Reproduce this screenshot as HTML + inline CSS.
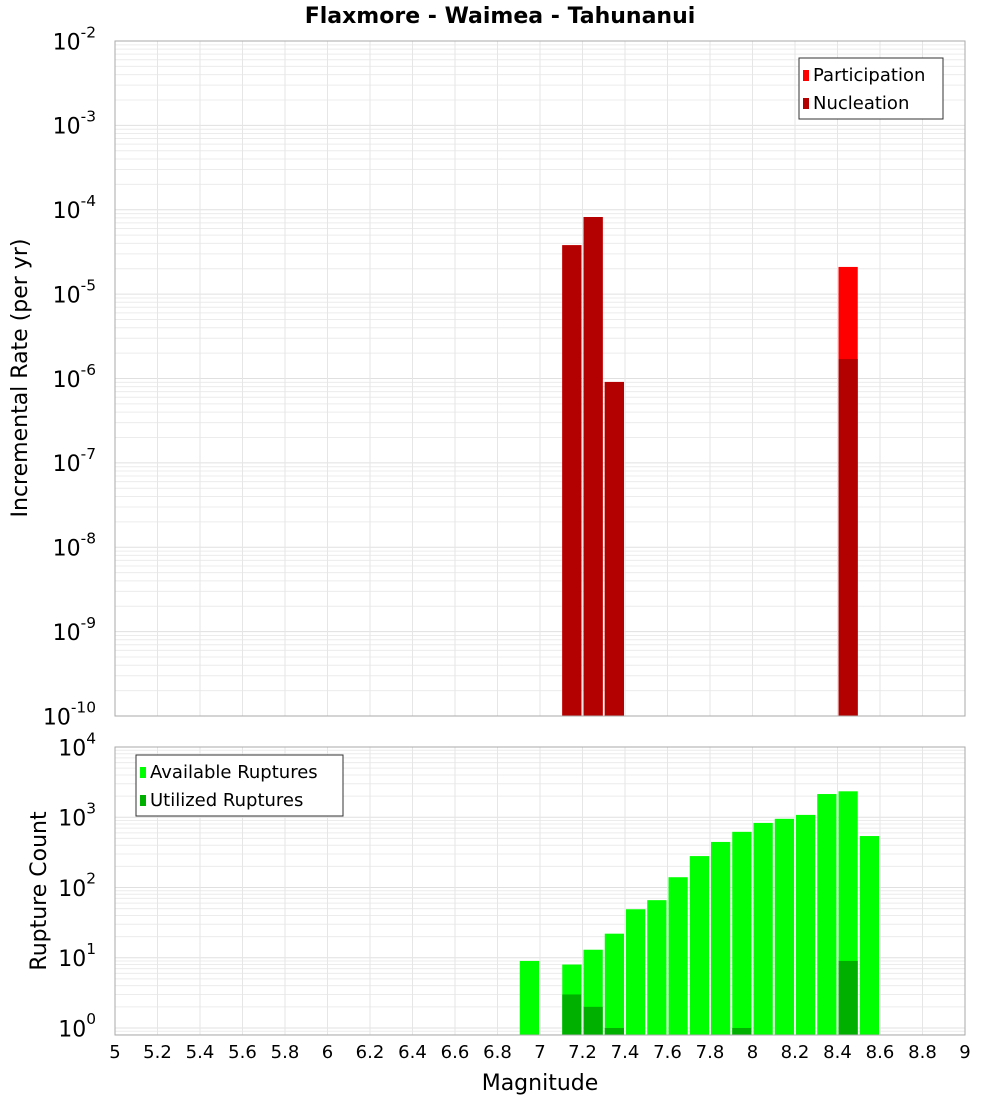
<!DOCTYPE html>
<html><head><meta charset="utf-8"><style>
body{margin:0;background:#fff;font-family:"DejaVu Sans","Liberation Sans",sans-serif}
svg text{font-family:"DejaVu Sans","Liberation Sans",sans-serif}
</style></head><body>
<svg id="c" width="1000" height="1100" xmlns="http://www.w3.org/2000/svg">
<text x="500" y="23" text-anchor="middle" font-size="22" font-weight="bold">Flaxmore - Waimea - Tahunanui</text>
<text transform="translate(27,378) rotate(-90)" text-anchor="middle" font-size="22">Incremental Rate (per yr)</text>
<text transform="translate(46,891) rotate(-90)" text-anchor="middle" font-size="22">Rupture Count</text>
<text x="540" y="1090" text-anchor="middle" font-size="22">Magnitude</text>
<g id="g"></g>
</svg>
<script>
const rateMags=[7.15,7.25,7.35,8.45];
const participation=[3.8e-5,8.2e-5,9.1e-7,2.1e-5];
const nucleation=[3.8e-5,8.2e-5,9.1e-7,1.7e-6];
const countMags=[6.95,7.15,7.25,7.35,7.45,7.55,7.65,7.75,7.85,7.95,8.05,8.15,8.25,8.35,8.45,8.55];
const available=[9,8,13,22,49,66,140,280,445,620,830,950,1080,2140,2340,540];
const utilized=[0,3,2,1,0,0,0,0,0,1,0,0,0,0,9,0];
const xTicks=[5,5.2,5.4,5.6,5.8,6,6.2,6.4,6.6,6.8,7,7.2,7.4,7.6,7.8,8,8.2,8.4,8.6,8.8,9];
const topExps=[-10,-9,-8,-7,-6,-5,-4,-3,-2];
const botExps=[0,1,2,3,4];

const NS="http://www.w3.org/2000/svg";
const g=document.getElementById('g');
function mk(t,a,p){const e=document.createElementNS(NS,t);for(const k in a)e.setAttribute(k,a[k]);(p||g).appendChild(e);return e;}
const X0=115,X1=965;
const xs=m=>X0+(m-5)/4*(X1-X0);
const T0=41,T1=716,B0=747,B1=1035;
const yTop=v=>T0+(-2-Math.log10(v))/8*(T1-T0);
const BMIN=-0.1,BMAX=4;
const yBot=v=>B0+(BMAX-Math.log10(v))/(BMAX-BMIN)*(B1-B0);

function grid(y0,y1,lo,hi,yf){
  for(let e=Math.floor(lo);e<hi;e++)for(let k=1;k<10;k++){const v=k*Math.pow(10,e);const lv=Math.log10(v);if(lv<lo||lv>hi)continue;const y=yf(v);
    const l=mk('line',{x1:X0,x2:X1,y1:y,y2:y,stroke:k==1?'#e0e0e0':'#ececec','stroke-width':1});
    
    }
  xTicks.forEach(m=>{const l=mk('line',{x1:xs(m),x2:xs(m),y1:y0,y2:y1,stroke:'#e6e6e6'});
    
    });
}
grid(T0,T1,-10,-2,yTop);
grid(B0,B1,BMIN,BMAX,yBot);
const W=(X1-X0)/40;
function bar(m,v,yf,base,col,name){const y=yf(v);const r=mk('rect',{x:xs(m)-W/2+1,y:y,width:W-2,height:base-y,fill:col});
  
  }
rateMags.forEach((m,i)=>{bar(m,participation[i],yTop,T1,'#ff0000','participation-bar');bar(m,nucleation[i],yTop,T1,'#b30000','nucleation-bar');});
countMags.forEach((m,i)=>{bar(m,available[i],yBot,B1,'#00ff00','available-bar');if(utilized[i]>0)bar(m,utilized[i],yBot,B1,'#00b000','utilized-bar');});
[[T0,T1],[B0,B1]].forEach(([a,b])=>{const r=mk('rect',{x:X0,y:a,width:X1-X0,height:b-a,fill:'none',stroke:'#aaa'});
  
  });
function ylab(e,y,size,name){const t=mk('text',{x:96,y:y+size*0.38,'text-anchor':'end','font-size':size});
  
  
  t.textContent='10';const s=mk('tspan',{dy:-size*0.55,'font-size':size*0.7},t);s.textContent=e;}
topExps.forEach(e=>ylab(e,yTop(Math.pow(10,e)),22,'top-y-tick-label'));
botExps.forEach(e=>ylab(e,yBot(Math.pow(10,e)),22,'bottom-y-tick-label'));
xTicks.forEach(m=>{const t=mk('text',{x:xs(m),y:1058,'text-anchor':'middle','font-size':18});
  
  
  t.textContent=String(m);});
function legend(x,y,w,items,name){const gg=mk('g',{});
  
  
  mk('rect',{x:x,y:y,width:w,height:items.length*28+5,fill:'#fff',stroke:'#333'},gg);
  items.forEach(([lab,col],i)=>{mk('rect',{x:x+4,y:y+12+i*28,width:6,height:11,fill:col},gg);const t=mk('text',{x:x+14,y:y+23+i*28,'font-size':18},gg);t.textContent=lab;});}
legend(799,58,144,[['Participation','#ff0000'],['Nucleation','#b30000']],'top-legend');
legend(136,755,207,[['Available Ruptures','#00ff00'],['Utilized Ruptures','#00b000']],'bottom-legend');
</script>
</body></html>
